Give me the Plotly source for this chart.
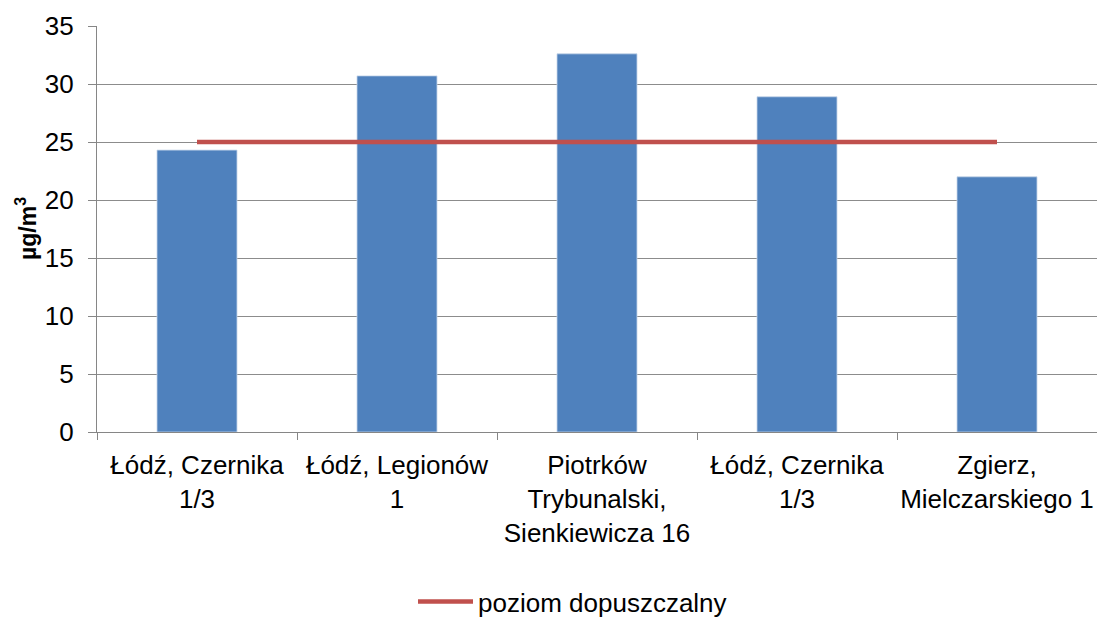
import plotly.graph_objects as go

categories = ["Łódź, Czernika<br>1/3", "Łódź, Legionów<br>1",
              "Piotrków<br>Trybunalski,<br>Sienkiewicza 16",
              "Łódź, Czernika<br>1/3", "Zgierz,<br>Mielczarskiego 1"]
values = [24.3, 30.7, 32.6, 28.9, 22.0]
limit = [25, 25, 25, 25, 25]
y_ticks = [0, 5, 10, 15, 20, 25, 30, 35]

xpos = list(range(len(categories)))

fig = go.Figure()
fig.add_trace(go.Bar(x=xpos, y=values, marker=dict(color="#4F81BD", line=dict(color="#C6D5EA", width=0.8)),
                     width=0.4, showlegend=False, hoverinfo="y"))
fig.add_trace(go.Scatter(x=xpos, y=limit, mode="lines", name="poziom dopuszczalny",
                         line=dict(color="#C0504D", width=4.5)))

fig.update_layout(
    width=1097, height=619,
    margin=dict(l=97, r=0, t=26, b=187, autoexpand=False),
    plot_bgcolor="white", paper_bgcolor="white",
    font=dict(family="Liberation Sans, Arial, sans-serif", size=26, color="#000000"),
    legend=dict(orientation="h", x=0.316, xanchor="left", y=-0.418, yanchor="middle",
                font=dict(size=26), itemwidth=55, borderwidth=0, tracegroupgap=0),
    xaxis=dict(range=[-0.5, 4.5], tickmode="array", tickvals=xpos, ticktext=categories,
               ticks="", showgrid=False, showline=True, linecolor="#868686", linewidth=1.3,
               zeroline=False, tickfont=dict(size=26), automargin=False, ticklabelstandoff=10,
               minor=dict(tick0=0.5, dtick=1, ticks="outside", ticklen=7, tickcolor="#868686", showgrid=False)),
    yaxis=dict(range=[0, 35], tickmode="array", tickvals=y_ticks, showgrid=True, gridcolor="#8C8C8C",
               gridwidth=1.3, showline=True, linecolor="#868686", linewidth=1.3, ticks="outside",
               ticklen=8, tickcolor="#868686", ticklabelstandoff=9, zeroline=False,
               tickfont=dict(size=26), automargin=False),
    annotations=[dict(text="<b>µg/m<sup>3</sup></b>", xref="paper", yref="paper",
                      x=-0.071, y=0.5, xanchor="center", yanchor="middle", textangle=-90,
                      showarrow=False, font=dict(size=23))],
    bargap=0.6,
)

fig.write_html("out.html", config={"displayModeBar": False},
               post_script="document.body.style.margin='0';document.body.style.overflow='hidden';")
